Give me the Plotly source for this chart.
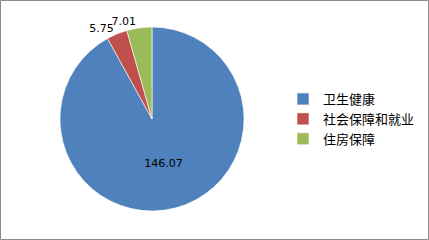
import plotly.graph_objects as go

categories = ["卫生健康", "社会保障和就业", "住房保障"]
values = [146.07, 5.75, 7.01]
colors = ["#4F81BD", "#C0504D", "#9BBB59"]

W, H = 429, 240
cx, cy, r = 152, 119, 92
domain = dict(x=[(cx - r) / W, (cx + r) / W], y=[(H - cy - r) / H, (H - cy + r) / H])
label_font = dict(family="DejaVu Sans", size=11, color="#000000")

# main pie: inside label of the big slice and outside label of the red slice
fig = go.Figure(go.Pie(
    labels=categories,
    values=values,
    sort=False,
    direction="clockwise",
    rotation=0,
    marker=dict(colors=colors, line=dict(color="#FFFFFF", width=0.6)),
    texttemplate=["%{value:.2f}", "%{value:.2f}", ""],
    textposition=["inside", "outside", "none"],
    insidetextorientation="horizontal",
    textfont=label_font,
    hoverinfo="label+value",
    domain=domain,
))

# transparent overlay carrying the green slice's outside label (avoids connector line)
fig.add_trace(go.Pie(
    labels=categories,
    values=values,
    sort=False,
    direction="clockwise",
    rotation=0,
    marker=dict(colors=["rgba(0,0,0,0)"] * 3, line=dict(width=0)),
    texttemplate=["", "", "%{value:.2f}"],
    textposition=["none", "none", "outside"],
    textfont=label_font,
    hoverinfo="skip",
    showlegend=False,
    domain=domain,
))

fig.update_layout(
    width=W, height=H,
    margin=dict(l=0, r=0, t=0, b=0),
    paper_bgcolor="#FFFFFF",
    plot_bgcolor="#FFFFFF",
    showlegend=True,
    legend=dict(
        x=283 / W, xanchor="left",
        y=(H - 119) / H, yanchor="middle",
        font=dict(family="Noto Sans CJK SC", size=13, color="#000000"),
        bgcolor="rgba(0,0,0,0)",
    ),
    shapes=[dict(
        type="rect", xref="paper", yref="paper",
        x0=0.5 / W, x1=1 - 0.5 / W, y0=0.5 / H, y1=1 - 0.5 / H,
        line=dict(color="#8C8C8C", width=1), layer="above",
    )],
)

fig.write_html("out.html")
